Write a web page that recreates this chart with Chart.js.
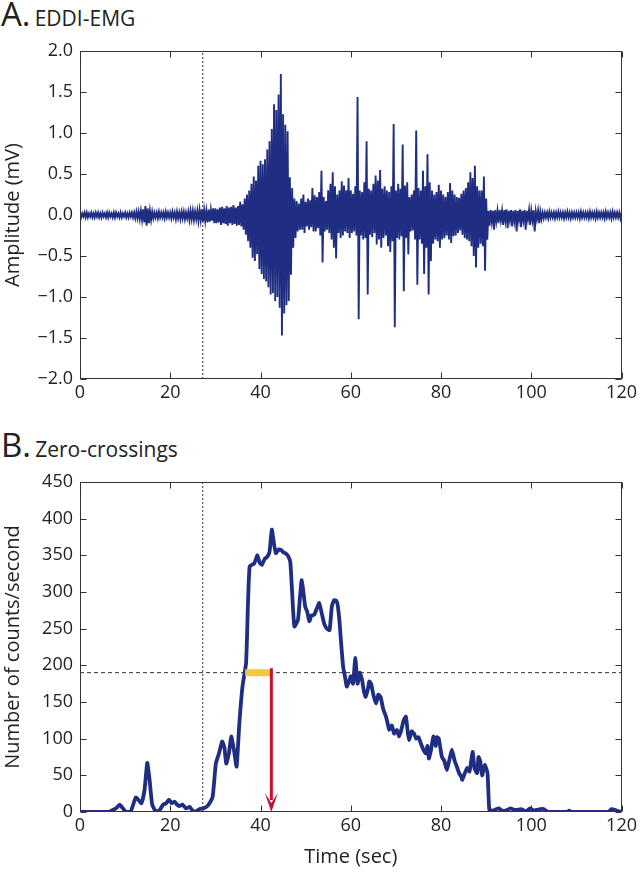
<!DOCTYPE html>
<html>
<head>
<meta charset="utf-8">
<script src="https://cdn.jsdelivr.net/npm/chart.js@4.4.1/dist/chart.umd.min.js"></script>
<style>
    body { margin: 0; width: 640px; height: 872px; background: #fff; position: relative; overflow: hidden; font-family: "Open Sans", sans-serif; color: #222; }
    .painel { position: absolute; left: 0; width: 640px; }
    .titulo { position: absolute; left: 1px; line-height: 1; white-space: nowrap; }
    .titulo .letra { font-size: 33px; }
    .titulo .nome { font-size: 21px; }
</style>
</head>
<body>
<div class="titulo" style="top:-3px"><span class="letra">A.</span> <span class="nome">EDDI-EMG</span></div>
<div class="painel" style="top:0; height:420px"><canvas id="graficoEmg" width="640" height="420"></canvas></div>
<div class="titulo" style="top:428px"><span class="letra">B.</span> <span class="nome">Zero-crossings</span></div>
<div class="painel" style="top:430px; height:442px"><canvas id="graficoZero" width="640" height="442"></canvas></div>
<script>
// Dados do painel A: envelope do sinal EMG (mV), um valor a cada 0,5 s
const emgPasso = 0.5;
const emgAlta = [
    0.03, 0.02, 0.03, 0.03, 0.02, 0.03, 0.02, 0.03, 0.03, 0.02, 0.03, 0.02, 0.03, 0.03, 0.02, 0.03, 0.03, 0.02, 0.03, 0.02,
    0.03, 0.02, 0.03, 0.03, 0.03, 0.04, 0.04, 0.05, 0.07, 0.11, 0.08, 0.05, 0.04, 0.03, 0.03, 0.04, 0.03, 0.03, 0.04, 0.03,
    0.03, 0.04, 0.03, 0.04, 0.03, 0.04, 0.04, 0.03, 0.04, 0.05, 0.05, 0.04, 0.05, 0.06, 0.07, 0.06, 0.05, 0.07, 0.06, 0.08,
    0.08, 0.07, 0.09, 0.10, 0.08, 0.11, 0.09, 0.10, 0.12, 0.09, 0.11, 0.16, 0.13, 0.20, 0.25, 0.30, 0.38, 0.47, 0.42, 0.60,
    0.66, 0.62, 0.68, 0.80, 0.90, 1.05, 1.35, 1.28, 1.47, 1.72, 1.23, 1.10, 1.02, 0.46, 0.33, 0.20, 0.17, 0.14, 0.20, 0.25,
    0.16, 0.20, 0.18, 0.33, 0.24, 0.22, 0.28, 0.54, 0.22, 0.17, 0.30, 0.38, 0.52, 0.35, 0.25, 0.30, 0.41, 0.36, 0.30, 0.45,
    0.30, 0.26, 0.35, 1.44, 0.30, 0.28, 0.40, 0.90, 0.32, 0.30, 0.38, 0.48, 0.42, 0.55, 0.32, 0.35, 0.30, 0.28, 0.35, 1.11,
    0.30, 0.38, 0.32, 0.86, 0.36, 0.40, 0.22, 0.25, 0.30, 1.03, 0.33, 0.30, 0.54, 0.35, 0.74, 0.40, 0.30, 0.25, 0.28, 0.37,
    0.30, 0.25, 0.22, 0.28, 0.39, 0.30, 0.25, 0.22, 0.21, 0.26, 0.30, 0.33, 0.40, 0.52, 0.45, 0.60, 0.35, 0.30, 0.30, 0.47,
    0.20, 0.05, 0.06, 0.05, 0.06, 0.05, 0.06, 0.05, 0.06, 0.07, 0.05, 0.06, 0.05, 0.06, 0.05, 0.07, 0.05, 0.06, 0.05, 0.06,
    0.05, 0.06, 0.04, 0.05, 0.04, 0.03, 0.03, 0.03, 0.04, 0.03, 0.03, 0.03, 0.04, 0.03, 0.03, 0.03, 0.04, 0.03, 0.03, 0.03,
    0.03, 0.03, 0.04, 0.03, 0.03, 0.03, 0.04, 0.03, 0.03, 0.04, 0.03, 0.03, 0.03, 0.04, 0.03, 0.03, 0.04, 0.03, 0.03, 0.03,
    0.03
];
const emgBaixa = [
    -0.03, -0.02, -0.03, -0.03, -0.02, -0.03, -0.03, -0.02, -0.03, -0.03, -0.02, -0.03, -0.03, -0.02, -0.03, -0.03, -0.02, -0.03, -0.03, -0.02,
    -0.03, -0.03, -0.02, -0.03, -0.04, -0.04, -0.05, -0.06, -0.09, -0.13, -0.10, -0.06, -0.04, -0.03, -0.04, -0.03, -0.03, -0.04, -0.03, -0.03,
    -0.04, -0.03, -0.05, -0.04, -0.05, -0.04, -0.05, -0.04, -0.06, -0.05, -0.06, -0.05, -0.07, -0.06, -0.08, -0.07, -0.09, -0.08, -0.07, -0.10,
    -0.10, -0.09, -0.12, -0.10, -0.11, -0.13, -0.10, -0.12, -0.11, -0.13, -0.12, -0.14, -0.18, -0.24, -0.32, -0.40, -0.52, -0.56, -0.48, -0.66,
    -0.72, -0.78, -0.81, -0.88, -0.97, -0.95, -1.05, -1.00, -1.13, -1.47, -1.20, -1.10, -1.05, -0.73, -0.40, -0.28, -0.20, -0.18, -0.18, -0.22,
    -0.14, -0.18, -0.15, -0.20, -0.20, -0.16, -0.25, -0.58, -0.20, -0.18, -0.22, -0.30, -0.40, -0.53, -0.22, -0.28, -0.25, -0.20, -0.22, -0.28,
    -0.22, -0.20, -0.25, -1.27, -0.25, -0.30, -0.28, -0.97, -0.24, -0.27, -0.22, -0.36, -0.30, -0.40, -0.28, -0.25, -0.38, -0.45, -0.32, -1.37,
    -0.28, -0.30, -0.26, -0.93, -0.28, -0.48, -0.20, -0.19, -0.30, -0.85, -0.30, -0.35, -0.72, -0.40, -0.97, -0.56, -0.35, -0.30, -0.32, -0.40,
    -0.30, -0.28, -0.25, -0.30, -0.34, -0.26, -0.25, -0.22, -0.19, -0.24, -0.28, -0.30, -0.32, -0.38, -0.50, -0.64, -0.40, -0.35, -0.38, -0.68,
    -0.30, -0.13, -0.08, -0.18, -0.07, -0.10, -0.06, -0.12, -0.07, -0.16, -0.06, -0.14, -0.07, -0.20, -0.06, -0.15, -0.06, -0.18, -0.05, -0.12,
    -0.06, -0.20, -0.05, -0.10, -0.05, -0.04, -0.03, -0.04, -0.03, -0.03, -0.04, -0.03, -0.03, -0.03, -0.04, -0.03, -0.03, -0.04, -0.03, -0.03,
    -0.03, -0.04, -0.03, -0.03, -0.03, -0.04, -0.03, -0.03, -0.04, -0.03, -0.03, -0.03, -0.04, -0.03, -0.03, -0.04, -0.03, -0.03, -0.03, -0.04,
    -0.03
];

// Dados do painel B: contagem de cruzamentos por zero
const zcTempo = [
    0, 6.3, 7, 8, 8.8, 9.5, 10.2, 11.2, 12.4, 13.6, 14.3, 14.9, 15.4, 16.0, 16.9, 17.7, 18.4, 19.1, 19.7, 20.3,
    21, 21.5, 22, 22.7, 23.5, 24.3, 24.8, 25.4, 26.0, 26.5, 27.3, 28, 28.7, 29.4, 30.1, 30.8, 31.5, 32.0, 32.4, 33.0,
    33.5, 34.1, 34.7, 35.3, 36, 36.8, 37.2, 37.6, 38.6, 39.0, 39.3, 39.8, 40.3, 40.9, 41.5, 42.0, 42.5, 43.0, 43.4, 44.0,
    44.6, 45.1, 45.7, 46.2, 46.6, 47.0, 47.5, 48.3, 48.7, 49.1, 49.5, 49.9, 50.4, 50.8, 51.3, 51.9, 52.5, 53.0, 53.6, 54.1,
    54.7, 55.3, 55.8, 56.3, 56.8, 57.1, 57.5, 57.8, 58.3, 58.7, 59.1, 59.6, 60.0, 60.5, 61.0, 61.5, 62.0, 62.5, 62.9, 63.3,
    63.8, 64.1, 64.5, 65.0, 65.6, 66.1, 66.6, 67.2, 67.8, 68.2, 68.5, 69.1, 69.6, 70.2, 70.7, 71.2, 71.7, 72.2, 72.6, 72.9,
    73.5, 74.0, 74.5, 75.0, 75.5, 76.0, 76.6, 77.0, 77.3, 77.8, 78.3, 78.8, 79.1, 79.5, 79.9, 80.2, 80.7, 81.3, 81.8, 82.4,
    83.0, 83.5, 84.0, 84.5, 84.7, 85.2, 85.8, 86.3, 87.0, 87.4, 88.0, 88.3, 88.7, 89.1, 89.7, 90.3, 90.7, 91.5, 92.3, 92.8,
    93.5, 94.3, 95.4, 96.2, 96.9, 97.8, 98.7, 99.3, 99.8, 100.5, 101.3, 102.0, 102.7, 103.8, 108.0, 108.4, 108.9, 117.0, 117.8, 118.5,
    118.9, 120
];
const zcContagem = [
    0, 0, 2, 5, 10, 5, 0, 0, 20, 12, 30, 67, 45, 10, 0, 3, 10, 12, 17, 12,
    14, 10, 8, 10, 5, 7, 3, 0, 2, 4, 5, 7, 12, 21, 66, 80, 96, 88, 66, 80,
    103, 85, 62, 120, 171, 203, 280, 335, 339, 345, 350, 340, 337, 345, 348, 355, 385, 365, 353, 358,
    357, 354, 352, 348, 341, 300, 253, 262, 290, 316, 300, 280, 272, 260, 268, 269, 278, 285, 270, 257,
    250, 248, 280, 289, 288, 282, 260, 235, 198, 185, 171, 178, 185, 175, 210, 175, 190, 180, 165, 157,
    168, 178, 175, 160, 148, 160, 157, 140, 130, 120, 112, 118, 107, 112, 103, 112, 125, 130, 110, 98,
    110, 107, 100, 102, 94, 86, 80, 90, 73, 85, 103, 90, 102, 100, 85, 75, 70, 57, 70, 85,
    70, 62, 53, 48, 44, 52, 60, 55, 82, 60, 53, 75, 69, 50, 64, 53, 3, 2, 4, 5,
    2, 2, 5, 3, 3, 4, 1, 3, 5, 2, 3, 4, 4, 0, 0, 2, 0, 0, 4, 3,
    2, 0
];

// Marcadores do painel B
const inicioEsforco = 27.2;      // linha vertical pontilhada (s)
const limiar = 190;              // linha horizontal tracejada (contagens/s)
const faixaInicio = 36.6;        // barra amarela (s)
const faixaFim = 42.4;
const topoSeta = 196;            // seta vermelha em faixaFim

// Marcas dos eixos
const ticksTempo = [0, 20, 40, 60, 80, 100, 120];
const ticksAmplitude = [-2.0, -1.5, -1.0, -0.5, 0.0, 0.5, 1.0, 1.5, 2.0];
const ticksContagem = [0, 50, 100, 150, 200, 250, 300, 350, 400, 450];

const azul = '#1f2d82';
const fonteTicks = { family: 'Open Sans', size: 18 };
const fonteTitulo = { family: 'Open Sans', size: 20 };

// Plugin para desenhar a moldura e os ticks para dentro
const moldura = {
    id: 'moldura',
    afterDatasetsDraw(chart) {
        const { ctx, chartArea: a, scales } = chart;
        const esq = Math.round(a.left) + 0.5, dir = Math.round(a.right) - 0.5;
        const topo = Math.round(a.top) + 0.5, base = Math.round(a.bottom) - 0.5;
        ctx.save();
        ctx.strokeStyle = '#333';
        ctx.lineWidth = 1;
        ctx.strokeRect(esq, topo, dir - esq, base - topo);
        ctx.beginPath();
        scales.x.ticks.forEach(t => {
            const px = Math.round(scales.x.getPixelForValue(t.value)) + 0.5;
            ctx.moveTo(px, base); ctx.lineTo(px, base - 6);
            ctx.moveTo(px, topo); ctx.lineTo(px, topo + 6);
        });
        scales.y.ticks.forEach(t => {
            const py = Math.round(scales.y.getPixelForValue(t.value)) + 0.5;
            ctx.moveTo(esq, py); ctx.lineTo(esq + 6, py);
            ctx.moveTo(dir, py); ctx.lineTo(dir - 6, py);
        });
        ctx.stroke();
        ctx.restore();
    }
};

// Plugin para a seta vermelha do painel B
const seta = {
    id: 'seta',
    afterDatasetsDraw(chart) {
        if (chart.canvas.id !== 'graficoZero') return;
        const { ctx, scales: { x, y } } = chart;
        const px = x.getPixelForValue(faixaFim);
        const pTopo = y.getPixelForValue(topoSeta);
        const pBase = y.getPixelForValue(0);
        ctx.save();
        ctx.strokeStyle = '#c8102e';
        ctx.fillStyle = '#c8102e';
        ctx.lineWidth = 3;
        ctx.beginPath();
        ctx.moveTo(px, pTopo);
        ctx.lineTo(px, pBase - 12);
        ctx.stroke();
        ctx.beginPath();
        ctx.moveTo(px - 6.5, pBase - 19);
        ctx.lineTo(px, pBase - 9);
        ctx.lineTo(px + 6.5, pBase - 19);
        ctx.lineTo(px, pBase);
        ctx.closePath();
        ctx.fill();
        ctx.restore();
    }
};

function eixos(yMin, yMax, yTicks, yTitulo, formatar, alturaX, mostrarTituloX) {
    return {
        x: {
            type: 'linear', min: 0, max: 120,
            afterBuildTicks: s => { s.ticks = ticksTempo.map(v => ({ value: v })); },
            afterFit: s => { s.height = alturaX; },
            grid: { display: false, drawTicks: false },
            border: { display: false },
            ticks: { font: fonteTicks, color: '#222', padding: 3, maxRotation: 0 },
            title: { display: mostrarTituloX, text: 'Time (sec)', font: fonteTitulo, color: '#222', padding: { top: 0, bottom: 3 } }
        },
        y: {
            min: yMin, max: yMax,
            afterBuildTicks: s => { s.ticks = yTicks.map(v => ({ value: v })); },
            afterFit: s => { s.width = 80; },
            grid: { display: false, drawTicks: false },
            border: { display: false },
            ticks: { font: fonteTicks, color: '#222', padding: 7, callback: formatar },
            title: { display: true, text: yTitulo, font: fonteTitulo, color: '#222', padding: { top: 1, bottom: 0 } }
        }
    };
}

// Monta os pontos do EMG alternando envelope superior e inferior
const pontosEmg = [];
emgAlta.forEach((v, i) => {
    const t = i * emgPasso;
    pontosEmg.push({ x: t, y: v });
    if (i < emgAlta.length - 1) pontosEmg.push({ x: t + emgPasso / 2, y: emgBaixa[i] });
});

const comum = {
    responsive: false,
    animation: false,
    parsing: false,
    normalized: true,
    plugins: { legend: { display: false }, tooltip: { enabled: false } },
    elements: { point: { radius: 0 } }
};

new Chart(document.getElementById('graficoEmg'), {
    type: 'line',
    data: {
        datasets: [
            { data: [{ x: inicioEsforco, y: -2 }, { x: inicioEsforco, y: 2 }], borderColor: '#333', borderWidth: 1, borderDash: [2, 2] },
            { data: pontosEmg, borderColor: azul, borderWidth: 1.9, tension: 0 }
        ]
    },
    options: Object.assign({}, comum, {
        layout: { padding: { top: 51, right: 17, left: 0, bottom: 0 } },
        scales: eixos(-2, 2, ticksAmplitude, 'Amplitude (mV)', v => (v < 0 ? '\u2212' : '') + Math.abs(v).toFixed(1), 41, false)
    }),
    plugins: [moldura]
});

new Chart(document.getElementById('graficoZero'), {
    type: 'line',
    data: {
        datasets: [
            { data: [{ x: faixaInicio, y: limiar }, { x: faixaFim, y: limiar }], borderColor: '#f2c744', borderWidth: 7, borderCapStyle: 'butt' },
            { data: zcTempo.map((t, i) => ({ x: t, y: zcContagem[i] })), borderColor: azul, borderWidth: 3.8, tension: 0.15, borderJoinStyle: 'round' },
            { data: [{ x: 0, y: limiar }, { x: 120, y: limiar }], borderColor: '#333', borderWidth: 1, borderDash: [4, 3] },
            { data: [{ x: inicioEsforco, y: 0 }, { x: inicioEsforco, y: 450 }], borderColor: '#333', borderWidth: 1, borderDash: [2, 2] }
        ]
    },
    options: Object.assign({}, comum, {
        layout: { padding: { top: 52, right: 17, left: 0, bottom: 0 } },
        scales: eixos(0, 450, ticksContagem, 'Number of counts/second', v => String(v), 60, true)
    }),
    plugins: [moldura, seta]
});
</script>
</body>
</html>
